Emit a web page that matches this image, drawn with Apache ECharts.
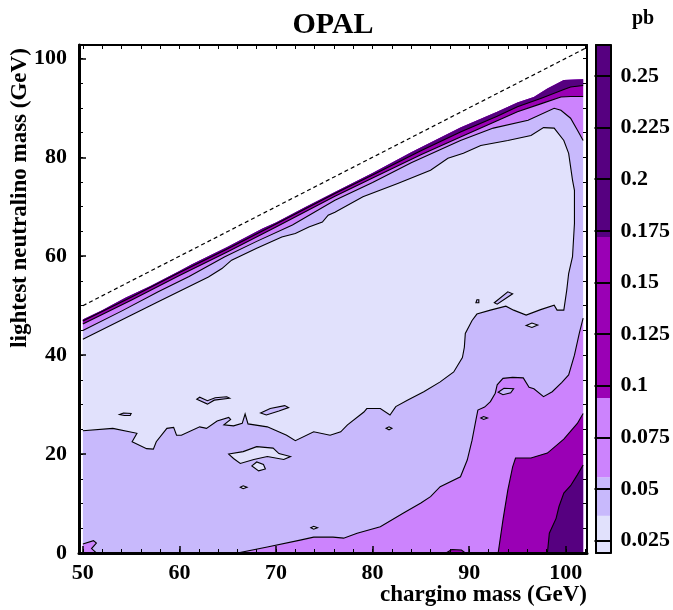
<!DOCTYPE html>
<html><head><meta charset="utf-8">
<script src="https://cdn.jsdelivr.net/npm/echarts@6/dist/echarts.min.js"></script>
<style>html,body{margin:0;padding:0;background:#fff}#c{width:673px;height:610px}</style>
</head><body><div id="c"></div><script>
// ---------- tick labels ----------
const xTicks = [50, 60, 70, 80, 90, 100];
const xMinorTicks = [50,52,54,56,58,60,62,64,66,68,70,72,74,76,78,80,82,84,86,88,90,92,94,96,98,100,102];
const yTicks = [0, 20, 40, 60, 80, 100];
const yMinorTicks = [0,5,10,15,20,25,30,35,40,45,50,55,60,65,70,75,80,85,90,95,100];
const colorTicks = [0.025, 0.05, 0.075, 0.1, 0.125, 0.15, 0.175, 0.2, 0.225, 0.25];
// cross-section levels (pb) separating the colour bands
const colorLevels = [0.019, 0.037, 0.0557, 0.094, 0.172, 0.265];
const levelColors = ['#e1e1fc', '#c8b9fc', '#cc83fd', '#9a00b5', '#560080'];

// ---------- kinematic limit m(neutralino) = m(chargino) ----------
const kinematicLimit = [[50, 50], [102.2, 102.2]];
const dataEdgeX = 101.8;

// ---------- contour curves [chargino, neutralino] ----------
const topEdge = [[50,47.2],[52,49.1],[54.4,51.6],[57,54.0],[60,57.0],[61.3,58.4],[65,61.9],[68.6,65.6],[70,66.8],[73,69.9],[76.1,73.0],[80,76.8],[84,81.0],[89.1,86.0],[92.9,89.2],[95,91.1],[96.7,92.2],[98.1,93.9],[99.8,95.6],[101.8,95.8]];
const band54 = [[50,46.9],[55,51.7],[60,56.7],[65,61.5],[70,66.5],[76.1,72.7],[80,76.4],[85,81.3],[89.1,85.1],[92.9,88.3],[95,90.2],[97.4,91.9],[99.8,93.7],[100.5,94.2],[101.8,94.5]];
const band43 = [[50,46.3],[55,51.1],[60,56.1],[65,60.9],[70,65.9],[76.1,72.1],[80,75.8],[85,80.5],[89.1,84.1],[92.9,87.4],[95,89.2],[97.4,90.8],[99.5,92.2],[100.5,92.3],[101.8,92.3]];
const band32 = [[50,45.0],[54,48.9],[57.8,52.8],[61,55.9],[64.7,59.9],[68,63.0],[71.7,66.3],[76.1,71.3],[80,74.9],[84,78.9],[89.1,83.4],[92.5,85.9],[96.1,87.5],[98.8,89.9],[99.5,89.5],[100.5,87.9],[101.2,85.5],[101.8,83.4]];
const lowXsecBoundary = [[50,43.2],[54,47.1],[57.8,50.8],[63.0,55.8],[64.4,57.5],[65.4,59.2],[68,61.6],[70.6,63.9],[72.0,64.6],[73.4,65.9],[74.8,66.9],[75.4,68.3],[76.1,68.9],[79,72.0],[82.6,74.7],[86,77.4],[87.8,79.8],[89.4,80.8],[91.2,82.4],[94,83.4],[96.4,84.4],[97.7,86.0],[98.8,85.9],[99.8,83.4],[100.3,80.8],[100.7,75.4],[100.9,73.3],[100.9,66.6],[100.7,59.9],[100.3,56.5],[100.1,53.1],[99.8,49.1],[99.1,49.1],[98.8,50.1],[97.4,49.2],[95.9,48.1],[94.6,49.1],[93.8,49.9],[92.2,49.1],[90.8,48.3],[90.3,47.0],[89.6,44.4],[89.5,41.6],[89.3,39.5],[88.4,36.6],[87,34.6],[85.3,32.6],[83.6,30.9],[82.4,29.6],[81.8,27.9],[80.8,29.2],[79.4,29.2],[79.1,28.5],[77.4,25.9],[76.7,24.5],[75.6,23.8],[73.9,24.5],[72.0,22.7],[71.1,23.8],[69.1,25.5],[67.1,26.1],[66.8,28.1],[66.5,26.2],[65.6,25.7],[64.6,25.9],[65.3,27.0],[65.1,27.4],[63.9,26.7],[62.8,25.2],[62.1,25.5],[60.2,23.8],[59.7,23.8],[59.4,25.4],[58.7,25.2],[57.6,22.5],[57.3,21.0],[56.6,21.1],[55.1,22.5],[55.6,24.2],[53.1,25.2],[50,24.7]];
const pinkContour = [[66.0,0],[69.1,1.2],[72.5,2.6],[73.9,3.2],[75.9,3.2],[77.0,3.0],[78.4,4.0],[80.8,5.3],[83.2,8.1],[85.0,10.1],[86.0,11.4],[87.0,13.4],[89.1,15.4],[89.8,18.8],[90.3,22.8],[90.7,26.9],[90.9,28.9],[91.6,29.5],[92.2,30.6],[92.7,32.3],[92.9,34.0],[93.5,35.3],[94.5,35.5],[95.6,35.4],[96.2,33.5],[96.7,33.2],[97.7,31.6],[98.6,32.6],[99.6,34.5],[100.3,36.0],[100.9,40.0],[101.4,44.4],[101.8,47.5]];
const magentaContour = [[93.0,0],[93.5,6.7],[94.0,12.7],[94.5,17.4],[94.8,19.2],[96.4,19.2],[98.1,20.2],[99.8,23.0],[101.2,26.2],[101.8,28.2]];
const darkContour = [[98.1,0],[98.3,4.0],[99.0,7.0],[99.3,9.4],[99.8,12.1],[100.5,13.6],[101.2,15.8],[101.8,17.8]];
const cornerPink = [[50,1.8],[51.1,2.5],[51.4,2.0],[50.9,0.9],[51.4,0]];
const bottomMagenta = [[87.6,0],[88.2,0.7],[89.2,0.6],[89.6,0]];
// small closed islands
const islandsMid = [ // level 0.037-0.056 inside the low region
  [[61.8,31.1],[62.9,30.1],[63.6,30.9],[65.2,31.3],[64.9,31.6],[63.7,31.4],[62.9,30.8],[62.1,31.5]],
  [[53.8,28.0],[54.2,28.3],[55.0,28.2],[54.9,27.8],[54.3,27.8]],
  [[68.4,28.3],[69.4,29.2],[70.9,29.8],[71.3,29.4],[70.3,28.7],[69.0,27.9]],
  [[92.6,50.6],[94.0,52.8],[94.5,52.4],[92.9,50.3]],
  [[90.7,50.6],[90.8,51.2],[91.0,51.2],[91.0,50.6]]
];
const islandsLow = [ // level < 0.037 inside the mid region
  [[65.1,20.0],[66.6,20.5],[68.0,21.5],[69.7,21.2],[70.3,20.1],[71.5,19.5],[70.8,18.9],[69.1,19.5],[67.7,18.9],[66.3,18.1],[65.6,19.1]],
  [[67.5,17.6],[68.0,18.4],[68.7,17.9],[68.9,17.0],[68.2,16.6]],
  [[95.9,46.0],[96.5,46.5],[97.1,46.1],[96.5,45.6]],
  [[81.4,25.2],[81.7,25.5],[82.0,25.2],[81.7,24.9]],
  [[66.3,13.3],[66.6,13.6],[67.0,13.3],[66.6,13.0]],
  [[73.6,5.1],[73.9,5.4],[74.3,5.1],[73.9,4.8]]
];
const islandsInPink = [
  [[93.0,32.5],[93.6,33.3],[94.6,33.2],[94.3,32.4],[93.5,32.0]],
  [[91.2,27.3],[91.5,27.6],[91.9,27.3],[91.5,27.0]]
];

// ---------- assemble filled regions (painted in order) ----------
const rev = a => a.slice().reverse();
const fills = [];
fills.push({ pts: [[50, 0]].concat(topEdge, [[dataEdgeX, 0]]), lv: 1 });
fills.push({ pts: lowXsecBoundary, lv: 0 });
islandsMid.forEach(p => fills.push({ pts: p, lv: 1 }));
islandsLow.forEach(p => fills.push({ pts: p, lv: 0 }));
fills.push({ pts: topEdge.concat(rev(band32)), lv: 2 });
fills.push({ pts: pinkContour.concat([[dataEdgeX, 0]]), lv: 2 });
fills.push({ pts: [[50, 0]].concat(cornerPink), lv: 2 });
islandsInPink.forEach(p => fills.push({ pts: p, lv: 1 }));
fills.push({ pts: topEdge.concat(rev(band43)), lv: 3 });
fills.push({ pts: magentaContour.concat([[dataEdgeX, 0]]), lv: 3 });
fills.push({ pts: bottomMagenta, lv: 3 });
fills.push({ pts: topEdge.concat(rev(band54)), lv: 4 });
fills.push({ pts: darkContour.concat([[dataEdgeX, 0]]), lv: 4 });

const lines = [];
[lowXsecBoundary, band32, band43, band54, pinkContour, magentaContour, darkContour, cornerPink, bottomMagenta]
  .forEach(p => lines.push({ pts: p, closed: false }));
islandsMid.concat(islandsLow, islandsInPink).forEach(p => lines.push({ pts: p, closed: true }));

const FONT = '"Liberation Serif", "Times New Roman", serif';
const labelStyle = { fontFamily: FONT, fontWeight: 'bold', fontSize: 22, color: '#000' };

function axis(base, extra) {
  return Object.assign({
    type: 'value', axisLine: { show: false, onZero: false }, axisTick: { show: false },
    axisLabel: { show: false }, splitLine: { show: false }, z: 10
  }, base, extra);
}
const mainX = { gridIndex: 0, min: 49.6, max: 102.2 };
const mainY = { gridIndex: 0, min: 0, max: 102.7 };
const cbX = { gridIndex: 1, min: 0, max: 1 };
const cbY = { gridIndex: 1, min: colorLevels[0], max: colorLevels[colorLevels.length - 1] };
const blackLine = w => ({ show: true, onZero: false, lineStyle: { color: '#000', width: w } });

const chart = echarts.init(document.getElementById('c'), null, { renderer: 'canvas' });
chart.setOption({
  animation: false,
  backgroundColor: '#fff',
  grid: [
    { left: 79, top: 45, width: 508, height: 508 },
    { left: 596, top: 45, width: 16, height: 508 }
  ],
  xAxis: [
    axis(mainX, { position: 'bottom', axisLine: blackLine(3),
      axisTick: { show: true, inside: true, length: 7, customValues: xTicks, lineStyle: { color: '#000', width: 1.5 } },
      axisLabel: Object.assign({ show: true, customValues: xTicks, margin: 9 }, labelStyle) }),
    axis(mainX, { position: 'bottom',
      axisTick: { show: true, inside: true, length: 4, customValues: xMinorTicks, lineStyle: { color: '#000', width: 1 } } }),
    axis(mainX, { position: 'top', axisLine: blackLine(2),
      axisTick: { show: true, inside: true, length: 4, customValues: xMinorTicks, lineStyle: { color: '#000', width: 1 } } }),
    axis(cbX, { position: 'bottom', axisLine: blackLine(2) }),
    axis(cbX, { position: 'top', axisLine: blackLine(2) })
  ],
  yAxis: [
    axis(mainY, { position: 'left', axisLine: blackLine(3),
      axisTick: { show: true, inside: true, length: 7, customValues: yTicks, lineStyle: { color: '#000', width: 1.5 } },
      axisLabel: Object.assign({ show: true, customValues: yTicks, margin: 12 }, labelStyle) }),
    axis(mainY, { position: 'left',
      axisTick: { show: true, inside: true, length: 4, customValues: yMinorTicks, lineStyle: { color: '#000', width: 1 } } }),
    axis(mainY, { position: 'right', axisLine: blackLine(2),
      axisTick: { show: true, inside: true, length: 4, customValues: yMinorTicks, lineStyle: { color: '#000', width: 1 } } }),
    axis(cbY, { position: 'right', axisLine: blackLine(2),
      axisTick: { show: true, inside: true, length: 16, customValues: colorTicks, lineStyle: { color: '#000', width: 2 } },
      axisLabel: Object.assign({ show: true, customValues: colorTicks, margin: 10 }, labelStyle) }),
    axis(cbY, { position: 'left', axisLine: blackLine(2) })
  ],
  graphic: [
    { type: 'text', x: 333, y: 25, style: { text: 'OPAL', font: 'bold 30px ' + FONT, fill: '#000', textAlign: 'center', textVerticalAlign: 'middle' } },
    { type: 'text', x: 643, y: 19, style: { text: 'pb', font: 'bold 20px ' + FONT, fill: '#000', textAlign: 'center', textVerticalAlign: 'middle' } },
    { type: 'text', x: 587, y: 595, style: { text: 'chargino mass (GeV)', font: 'bold 23px ' + FONT, fill: '#000', textAlign: 'right', textVerticalAlign: 'middle' } },
    { type: 'text', x: 20, y: 198, rotation: Math.PI / 2, style: { text: 'lightest neutralino mass (GeV)', font: 'bold 23px ' + FONT, fill: '#000', textAlign: 'center', textVerticalAlign: 'middle' } }
  ],
  series: [
    {
      type: 'custom', coordinateSystem: 'cartesian2d', xAxisIndex: 0, yAxisIndex: 0, z: 2, clip: true,
      data: fills.map((f, i) => [f.pts[0][0], f.pts[0][1], i]),
      renderItem: (params, api) => {
        const f = fills[params.dataIndex];
        return { type: 'polygon', silent: true, shape: { points: f.pts.map(p => api.coord(p)) }, style: { fill: levelColors[f.lv] } };
      }
    },
    {
      type: 'custom', coordinateSystem: 'cartesian2d', xAxisIndex: 0, yAxisIndex: 0, z: 3, clip: true,
      data: lines.map((l, i) => [l.pts[0][0], l.pts[0][1], i]),
      renderItem: (params, api) => {
        const l = lines[params.dataIndex];
        return { type: l.closed ? 'polygon' : 'polyline', silent: true, shape: { points: l.pts.map(p => api.coord(p)) },
          style: { fill: null, stroke: '#000', lineWidth: 1.1 } };
      }
    },
    {
      type: 'line', xAxisIndex: 0, yAxisIndex: 0, z: 4, data: kinematicLimit, symbol: 'none', silent: true,
      lineStyle: { color: '#000', width: 1.2, type: [4, 3] }
    },
    {
      type: 'custom', coordinateSystem: 'cartesian2d', xAxisIndex: 3, yAxisIndex: 3, z: 2,
      data: levelColors.map((c, i) => [0, colorLevels[i], i]),
      renderItem: (params, api) => {
        const i = params.dataIndex;
        const a = api.coord([0, colorLevels[i + 1]]);
        const b = api.coord([1, colorLevels[i]]);
        return { type: 'rect', silent: true, shape: { x: a[0], y: a[1], width: b[0] - a[0], height: b[1] - a[1] }, style: { fill: levelColors[i] } };
      }
    }
  ]
});
</script></body></html>
